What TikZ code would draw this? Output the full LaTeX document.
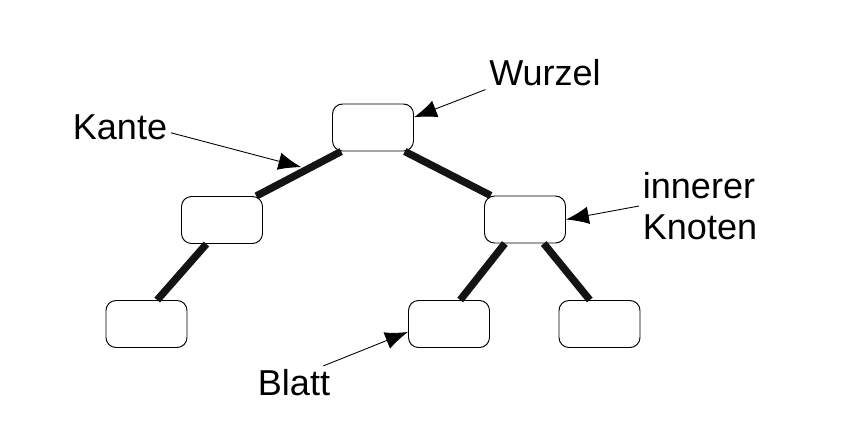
\documentclass[tikz,border=0pt]{standalone}
\usepackage{fontspec}
\setmainfont{Liberation Sans}
\usetikzlibrary{arrows.meta}

\begin{document}
\begin{tikzpicture}[
	knoten/.style={draw, line width=0.55pt, rounded corners=0.2cm, minimum width=1.62cm, minimum height=0.94cm, inner sep=0pt},
	kante/.style={line width=4.2pt, color=black!92},
	zeiger/.style={line width=0.5pt, -{Latex[length=13pt, width=10pt]}},
	beschr/.style={font=\fontsize{20.5}{23}\selectfont, inner sep=2pt, align=left}
	]
	%%%%% START %%%%%
	
	\useasboundingbox (0, 0) rectangle (17.26, -8.62);
	
	\node[knoten] (wurzel) at (7.46, -2.55) {};
	\node[knoten] (innenL) at (4.44, -4.40) {};
	\node[knoten] (innenR) at (10.50, -4.39) {};
	\node[knoten] (blattA) at (2.93, -6.48) {};
	\node[knoten] (blattB) at (8.98, -6.48) {};
	\node[knoten] (blattC) at (11.99, -6.48) {};
	
	\draw[kante] (wurzel.-143) -- coordinate[pos=0.47] (kmitte) (innenL.35);
	\draw[kante] (wurzel.-37) -- (innenR.145);
	\draw[kante] (innenL.-123) -- (blattA.66);
	\draw[kante] (innenR.-130) -- (blattB.65);
	\draw[kante] (innenR.-52) -- (blattC.112);
	
	\node[beschr] (tWurzel) at (10.9, -1.45) {Wurzel};
	\node[beschr] (tKante) at (2.40, -2.55) {Kante};
	\node[beschr] (tInnen) at (14.0, -4.12) {innerer\\Knoten};
	\node[beschr] (tBlatt) at (5.88, -7.66) {Blatt};
	
	\draw[zeiger] (tWurzel.south west) -- (wurzel.14);
	\draw[zeiger] ([yshift=-3pt]tKante.east) -- ([yshift=3pt]kmitte);
	\draw[zeiger] (tInnen.west) -- (innenR.east);
	\draw[zeiger] ([xshift=-6pt]tBlatt.north east) -- (blattB.191);
	
	%%%%% END %%%%%
\end{tikzpicture}
\end{document}
